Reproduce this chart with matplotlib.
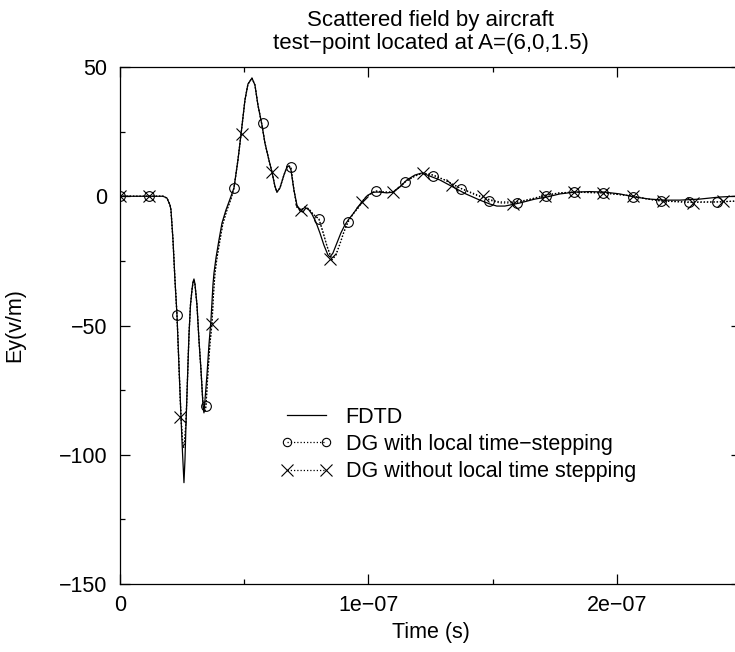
import matplotlib
matplotlib.use("Agg")
import matplotlib.pyplot as plt
from matplotlib.lines import Line2D
from matplotlib.ticker import MultipleLocator, FixedLocator
import numpy as np

# ---------------- data (time in ns, Ey in V/m) ----------------
fdtd_t_ns = [0.0, 12.07, 17.30, 18.91, 20.12, 20.52, 21.33, 22.13, 22.94, 23.74,
             24.55, 25.15, 25.75, 26.16, 26.56, 26.96, 27.36, 27.77, 28.37, 28.97,
             29.38, 29.78, 30.18, 30.99, 31.79, 32.60, 33.40, 33.80, 34.21, 35.01,
             35.81, 36.62, 37.42, 37.83, 38.63, 39.84, 41.05, 42.66, 44.27, 45.88,
             47.48, 48.69, 50.30, 51.51, 53.12, 54.33, 55.53, 57.14, 58.35, 59.96,
             61.17, 62.37, 63.18, 64.39, 65.99, 67.20, 68.01, 68.81, 70.02, 71.23,
             72.43, 73.64, 74.85, 76.06, 77.26, 78.87, 80.48, 82.09, 83.70, 84.51,
             85.71, 87.32, 88.93, 90.54, 92.15, 93.76, 95.77, 97.38, 99.40, 101.81,
             104.63, 107.44, 109.86, 112.68, 115.49, 118.71, 121.53, 124.75, 128.77, 134.00,
             139.24, 144.87, 148.89, 151.71, 154.93, 160.97, 167.00, 171.83, 177.06, 183.10,
             189.13, 195.17, 201.21, 207.24, 213.28, 219.32, 225.35, 233.40, 241.45, 249.90]
fdtd_ey = [0.0, 0.0, 0.0, -0.7, -3.4, -5.3, -16.9, -32.4, -45.9, -65.6,
           -85.3, -98.9, -110.8, -101.9, -88.4, -76.8, -65.2, -53.6, -42.1, -36.3,
           -33.2, -32.0, -33.9, -42.1, -55.6, -67.2, -80.7, -83.8, -78.8, -69.1,
           -57.5, -47.9, -34.3, -29.7, -23.9, -16.9, -10.4, -5.3, -1.1, 3.2,
           14.0, 23.7, 37.2, 43.4, 45.7, 43.0, 35.3, 27.6, 20.6, 14.0,
           9.4, 3.9, 1.6, 3.2, 8.2, 11.3, 11.7, 10.2, 2.4, -3.4,
           -5.7, -6.1, -4.5, -5.3, -6.9, -10.0, -14.2, -18.9, -22.7, -23.5,
           -22.0, -18.1, -14.2, -11.1, -8.8, -6.9, -4.2, -2.2, 0.1, 1.6,
           1.6, 1.3, 1.6, 3.6, 6.3, 8.2, 9.0, 7.8, 6.3, 3.6,
           0.9, -1.5, -3.0, -3.8, -3.8, -2.6, -1.1, -0.3, 0.9, 1.6,
           1.8, 1.6, 0.9, -0.3, -1.1, -1.5, -1.5, -1.1, -0.3, 0.1]

dg_t_ns = [0.0, 12.07, 17.30, 18.91, 20.12, 20.52, 21.33, 22.13, 22.94, 23.74,
           24.55, 25.15, 25.55, 25.95, 26.56, 26.96, 27.36, 27.77, 28.37, 28.97,
           29.38, 29.78, 30.18, 30.99, 31.79, 32.60, 33.40, 33.80, 34.21, 34.61,
           35.41, 36.22, 37.02, 37.63, 38.23, 39.03, 40.24, 41.45, 43.06, 44.67,
           45.88, 47.48, 48.69, 50.30, 51.51, 53.12, 54.33, 55.53, 57.14, 58.35,
           59.96, 61.17, 62.37, 63.18, 64.39, 65.99, 67.20, 68.01, 68.81, 70.02,
           71.23, 72.84, 74.45, 76.06, 77.67, 80.08, 81.69, 83.30, 85.31, 86.92,
           88.53, 90.14, 91.75, 93.76, 95.77, 97.38, 99.40, 103.02, 106.64, 109.86,
           112.68, 114.69, 118.71, 121.93, 125.96, 130.78, 136.82, 142.86, 148.09, 152.92,
           159.76, 165.39, 171.43, 177.06, 182.70, 194.37, 206.44, 212.47, 217.71, 228.97,
           240.24, 249.90]
dg_lts_ey = [0.0, 0.0, 0.0, -0.7, -3.4, -5.3, -16.9, -32.4, -45.9, -65.6,
             -85.3, -94.5, -97.5, -96.0, -87.5, -76.8, -65.2, -53.6, -42.1, -36.3,
             -33.5, -32.5, -34.2, -42.1, -55.6, -67.2, -80.2, -83.0, -83.5, -81.1,
             -68.0, -57.0, -49.4, -38.0, -29.7, -23.9, -16.9, -10.4, -5.3, -1.1,
             3.2, 14.0, 23.7, 37.2, 43.4, 45.7, 43.0, 35.3, 27.6, 20.6,
             14.0, 9.4, 3.9, 1.6, 3.2, 8.2, 11.3, 11.7, 11.3, 2.4,
             -4.2, -5.3, -4.2, -4.9, -6.9, -8.8, -13.8, -19.2, -24.7, -22.7,
             -18.5, -13.8, -10.0, -6.9, -4.6, -2.2, 0.1, 2.0, 1.6, 1.6,
             3.6, 5.5, 7.8, 9.0, 8.2, 6.3, 3.2, 0.9, -1.1, -2.2,
             -2.2, -1.1, 0.5, 1.3, 1.6, 1.3, 0.1, -1.1, -1.8, -2.2,
             -2.2, -1.8]
dg_nolts_ey = [0.0, 0.0, 0.0, -0.7, -3.4, -5.3, -16.9, -32.4, -45.9, -65.6,
               -85.3, -94.0, -97.0, -95.5, -87.0, -76.8, -65.2, -53.6, -42.1, -36.3,
               -33.5, -32.5, -34.2, -42.1, -55.6, -67.2, -80.2, -83.0, -83.5, -81.1,
               -68.0, -57.0, -49.4, -38.0, -29.7, -23.9, -16.9, -10.4, -5.3, -1.1,
               3.2, 14.0, 23.7, 37.2, 43.4, 45.7, 43.0, 35.3, 27.6, 20.6,
               14.0, 9.4, 3.9, 1.6, 3.2, 8.2, 11.3, 11.7, 11.3, 2.4,
               -4.2, -5.3, -4.2, -4.9, -6.9, -8.8, -13.8, -19.2, -24.5, -22.7,
               -18.5, -13.8, -10.0, -6.9, -4.6, -2.2, 0.1, 2.0, 1.6, 1.6,
               3.6, 5.5, 7.8, 9.0, 8.2, 6.3, 3.2, 0.6, -1.3, -2.6,
               -2.6, -1.1, 0.3, 1.3, 1.6, 1.3, 0.1, -1.1, -1.8, -2.4,
               -2.2, -1.8]

lts_marker_t_ns = [0.0, 11.6, 22.9, 34.6, 45.9, 57.5, 68.8, 80.1, 91.8, 103.0, 114.7,
                   126.0, 137.2, 148.5, 159.8, 171.4, 182.7, 194.4, 206.4, 217.7, 229.0, 240.2]
lts_marker_ey = [0.0, 0.0, -45.9, -81.1, 3.2, 28.3, 11.3, -8.8, -10.0, 2.0, 5.5,
                 7.8, 2.8, -1.8, -2.6, 0.1, 1.6, 1.3, -0.3, -1.8, -2.2, -2.2]
nolts_marker_t_ns = [0.0, 11.7, 24.3, 37.0, 49.1, 61.2, 72.8, 84.5, 97.4, 109.9, 121.9,
                     133.6, 146.1, 158.1, 171.0, 182.7, 194.4, 206.4, 218.5, 230.6, 242.7]
nolts_marker_ey = [0.0, 0.0, -85.3, -49.4, 24.1, 9.4, -5.3, -24.3, -2.2, 1.6, 9.0,
                   4.4, 0.1, -3.0, 0.1, 1.6, 1.3, 0.1, -1.8, -2.6, -1.8]

x_tick_values = [0.0, 1e-7, 2e-7]
x_tick_labels = ["0", "1e\u221207", "2e\u221207"]
y_tick_values = [-150, -100, -50, 0, 50]
y_tick_labels = ["\u2212150", "\u2212100", "\u221250", "0", "50"]
legend_labels = ["FDTD", "DG with local time\u2212stepping", "DG without local time stepping"]

# ---------------- styling ----------------
plt.rcParams["font.family"] = ["Liberation Sans", "DejaVu Sans"]
FS = 15.5
plt.rcParams["font.size"] = FS

ns = 1e-9
fig = plt.figure(figsize=(7.35, 6.52), dpi=100)
ax = fig.add_axes([120 / 735, 68 / 652, 621 / 735, 517 / 652])

dot = (0, (1.0, 1.6))
ax.plot(np.array(fdtd_t_ns) * ns, fdtd_ey, color="black", lw=0.9, ls="-", zorder=3)
ax.plot(np.array(dg_t_ns) * ns, dg_lts_ey, color="black", lw=0.9, ls=dot, zorder=2)
ax.plot(np.array(dg_t_ns) * ns, dg_nolts_ey, color="black", lw=0.9, ls=dot, zorder=2)
ax.plot(np.array(lts_marker_t_ns) * ns, lts_marker_ey, ls="none", marker="o", ms=7,
        mfc="none", mec="black", mew=0.8, zorder=4)
ax.plot(np.array(nolts_marker_t_ns) * ns, nolts_marker_ey, ls="none", marker="x", ms=8,
        mec="black", mew=0.8, zorder=4)

ax.set_xlim(0, 2.5e-7)
ax.set_ylim(-150, 50)

ax.xaxis.set_major_locator(FixedLocator(x_tick_values))
ax.set_xticklabels(x_tick_labels)
ax.xaxis.set_minor_locator(FixedLocator([0.5e-7, 1.5e-7, 2.5e-7]))
ax.yaxis.set_major_locator(FixedLocator(y_tick_values))
ax.set_yticklabels(y_tick_labels)
ax.yaxis.set_minor_locator(MultipleLocator(25))

ax.tick_params(which="both", direction="in", top=True, right=True, width=0.9, colors="black")
ax.tick_params(which="major", length=7, labelsize=FS)
ax.tick_params(axis="x", which="major", pad=8)
ax.tick_params(axis="y", which="major", pad=9)
ax.tick_params(which="minor", length=3.5)
for s in ax.spines.values():
    s.set_linewidth(0.9)
    s.set_color("black")

ax.set_xlabel("Time (s)", fontsize=FS)
ax.xaxis.set_label_coords(0.5, -0.074)
ax.set_ylabel("Ey(v/m)", fontsize=FS)
ax.yaxis.set_label_coords(-0.153, 0.5)

ax.set_title("Scattered field by aircraft\ntest\u2212point located at A=(6,0,1.5)",
             fontsize=16, linespacing=1.1, pad=13)

handles = [
    Line2D([], [], color="black", lw=0.9, ls="-"),
    Line2D([], [], color="black", lw=0.9, ls=dot, marker="o", ms=6, mfc="none", mec="black", mew=0.8),
    Line2D([], [], color="black", lw=0.9, ls=dot, marker="x", ms=8, mec="black", mew=0.8),
]
leg = fig.legend(handles, legend_labels, loc="upper left",
                 bbox_to_anchor=(281 / 735, 1 - 407 / 652), frameon=False,
                 numpoints=2, handlelength=2.4, handletextpad=0.6, labelspacing=0.28,
                 borderpad=0, borderaxespad=0, fontsize=FS)

fig.savefig("out.png", dpi=100)
